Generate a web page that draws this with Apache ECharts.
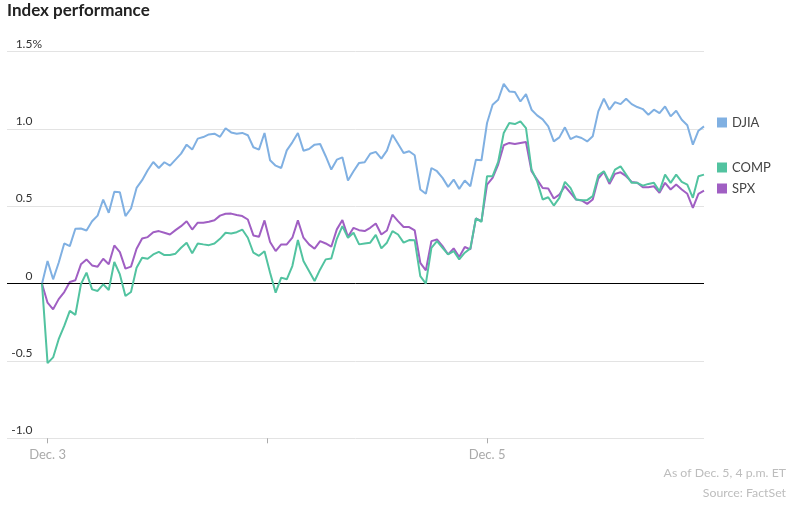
<!DOCTYPE html>
<html>
<head>
<meta charset="utf-8">
<script src="https://cdn.jsdelivr.net/npm/echarts@6/dist/echarts.min.js"></script>
<style>
html,body{margin:0;padding:0;background:#fff;}
#chart{width:794px;height:509px;}
</style>
</head>
<body>
<div id="chart"></div>
<script>
// Series values (% change), one point every 10 minutes, Dec. 3 to Dec. 5
const djia = [
  0, 0.146, 0.028, 0.135, 0.26, 0.243, 0.355, 0.357, 0.344, 0.404,
  0.44, 0.544, 0.458, 0.594, 0.591, 0.437, 0.486, 0.619, 0.669, 0.733,
  0.787, 0.748, 0.785, 0.763, 0.802, 0.841, 0.899, 0.867, 0.938, 0.948,
  0.965, 0.97, 0.95, 1.005, 0.978, 0.97, 0.975, 0.96, 0.882, 0.867,
  0.974, 0.798, 0.763, 0.748, 0.862, 0.914, 0.974, 0.86, 0.871, 0.899,
  0.903, 0.824, 0.738, 0.802, 0.817, 0.667, 0.727, 0.781, 0.785, 0.84,
  0.852, 0.809, 0.86, 0.963, 0.905, 0.845, 0.856, 0.83, 0.609, 0.581,
  0.748, 0.727, 0.684, 0.626, 0.673, 0.613, 0.667, 0.63, 0.802, 0.798,
  1.039, 1.157, 1.189, 1.292, 1.243, 1.239, 1.178, 1.226, 1.125, 1.088,
  1.062, 1.017, 0.92, 0.946, 1.011, 0.935, 0.953, 0.942, 0.92, 0.953,
  1.114, 1.196, 1.125, 1.174, 1.161, 1.196, 1.161, 1.142, 1.129, 1.092,
  1.125, 1.103, 1.146, 1.082, 1.118, 1.06, 1.024, 0.899, 0.989, 1.017
];
const comp = [
  0, -0.514, -0.477, -0.359, -0.273, -0.176, -0.202, -0.004, 0.071, -0.037,
  -0.047, -0.004, -0.041, 0.14, 0.06, -0.08, -0.054, 0.103, 0.168, 0.161,
  0.189, 0.206, 0.185, 0.185, 0.194, 0.232, 0.265, 0.196, 0.26, 0.254,
  0.249, 0.26, 0.29, 0.329, 0.325, 0.333, 0.35, 0.297, 0.2, 0.18,
  0.21, 0.07, -0.058, 0.039, 0.028, 0.114, 0.282, 0.146, 0.082, 0.017,
  0.092, 0.157, 0.163, 0.29, 0.372, 0.297, 0.329, 0.254, 0.26, 0.265,
  0.315, 0.228, 0.265, 0.34, 0.318, 0.265, 0.282, 0.28, 0.049, 0.0,
  0.232, 0.275, 0.232, 0.189, 0.211, 0.157, 0.2, 0.228, 0.422, 0.4,
  0.695, 0.695, 0.787, 0.974, 1.039, 1.032, 1.049, 1.006, 0.738, 0.662,
  0.544, 0.559, 0.505, 0.555, 0.658, 0.619, 0.544, 0.54, 0.54, 0.566,
  0.701, 0.727, 0.658, 0.738, 0.759, 0.705, 0.652, 0.652, 0.634, 0.645,
  0.652, 0.598, 0.705, 0.652, 0.705, 0.658, 0.641, 0.555, 0.695, 0.705
];
const spx = [
  0, -0.123, -0.166, -0.10, -0.054, 0.011, 0.022, 0.125, 0.157, 0.118,
  0.11, 0.161, 0.125, 0.247, 0.204, 0.097, 0.11, 0.226, 0.292, 0.301,
  0.333, 0.34, 0.329, 0.318, 0.346, 0.372, 0.404, 0.35, 0.394, 0.394,
  0.40, 0.41, 0.44, 0.452, 0.453, 0.444, 0.437, 0.415, 0.312, 0.303,
  0.409, 0.269, 0.211, 0.254, 0.254, 0.297, 0.409, 0.297, 0.254, 0.226,
  0.275, 0.26, 0.239, 0.351, 0.411, 0.303, 0.361, 0.346, 0.34, 0.361,
  0.389, 0.318, 0.344, 0.447, 0.404, 0.366, 0.366, 0.344, 0.135, 0.086,
  0.275, 0.286, 0.243, 0.189, 0.228, 0.172, 0.237, 0.222, 0.422, 0.404,
  0.641, 0.684, 0.77, 0.895, 0.91, 0.903, 0.91, 0.916, 0.727, 0.673,
  0.619, 0.615, 0.551, 0.576, 0.63, 0.587, 0.544, 0.538, 0.516, 0.544,
  0.68, 0.723, 0.645, 0.71, 0.72, 0.695, 0.658, 0.652, 0.624, 0.624,
  0.63, 0.587, 0.652, 0.609, 0.641, 0.609, 0.581, 0.49, 0.581, 0.602
];
const seriesNames = ['DJIA', 'COMP', 'SPX'];
// x-axis day ticks (point index) and their labels
const dayTickIndex = [1, 40.45, 80];
const dayTickLabels = ['Dec. 3', '', 'Dec. 5'];
// y-axis tick labels, from bottom to top
const yTickLabels = ['-1.0', '-0.5', '0', '0.5', '1.0', '1.5'];

const colors = { DJIA: '#80b0e2', COMP: '#52c3a0', SPX: '#a05fc3' };
const FONT = 'Lato';

const labelMap = {};
dayTickIndex.forEach((v, i) => { labelMap[v] = dayTickLabels[i]; });

const toPairs = arr => arr.map((v, i) => [i, v]);

const chart = echarts.init(document.getElementById('chart'), null, { renderer: 'canvas' });

const legendBase = {
  orient: 'vertical', left: 717, icon: 'rect', itemWidth: 10, itemHeight: 10,
  padding: 0, selectedMode: false,
  textStyle: { fontFamily: FONT, fontSize: 13, color: '#444' }
};

chart.setOption({
  animation: false,
  backgroundColor: '#fff',
  title: [
    { text: 'Index performance', left: 7, top: 2, padding: 0,
      textStyle: { fontFamily: FONT, fontSize: 17, fontWeight: 'bold', color: '#222' } },
    { text: 'As of Dec. 5, 4 p.m. ET', right: 8, top: 467, padding: 0,
      textStyle: { fontFamily: FONT, fontSize: 12.3, fontWeight: 'normal', color: '#bdbdbd' } },
    { text: 'Source: FactSet', right: 8, top: 487, padding: 0,
      textStyle: { fontFamily: FONT, fontSize: 12.3, fontWeight: 'normal', color: '#bdbdbd' } }
  ],
  legend: [
    Object.assign({}, legendBase, { top: 116, data: ['DJIA'] }),
    Object.assign({}, legendBase, { top: 161, data: ['COMP'] }),
    Object.assign({}, legendBase, { top: 182, data: ['SPX'] })
  ],
  grid: { left: 7, right: 90, top: 51.7, bottom: 70.7, containLabel: false },
  xAxis: {
    type: 'value',
    min: -6.29,
    max: djia.length - 1,
    axisLine: { show: false, onZero: false },
    splitLine: { show: false },
    axisTick: { show: true, customValues: dayTickIndex, length: 5,
      lineStyle: { color: '#aaa', width: 1 } },
    axisLabel: {
      customValues: dayTickIndex.filter((v, i) => dayTickLabels[i] !== ''),
      formatter: v => labelMap[v] || '',
      color: '#aaa', fontFamily: FONT, fontSize: 13, margin: 10
    }
  },
  yAxis: {
    type: 'value',
    min: -1,
    max: 1.5,
    interval: 0.5,
    axisLine: { show: false },
    axisTick: { show: false },
    splitLine: { show: true, lineStyle: { color: '#e3e3e3', width: 1 } },
    axisLabel: {
      inside: true,
      margin: 35,
      align: 'right',
      verticalAlign: 'bottom',
      padding: [0, 0, 2, 0],
      formatter: (v, i) => {
        const last = i === yTickLabels.length - 1;
        return '{n|' + yTickLabels[i] + '}' + (last ? '{p|%}' : '{h|%}');
      },
      rich: {
        n: { fontFamily: FONT, fontSize: 12, color: '#333' },
        p: { fontFamily: FONT, fontSize: 12, color: '#333' },
        h: { fontFamily: FONT, fontSize: 12, color: 'transparent' }
      }
    }
  },
  series: [
    { name: 'DJIA', type: 'line', data: toPairs(djia), showSymbol: false, symbol: 'none',
      lineStyle: { color: colors.DJIA, width: 2 }, itemStyle: { color: colors.DJIA },
      z: 3,
      markLine: { silent: true, symbol: 'none', label: { show: false },
        lineStyle: { color: '#000', width: 1, type: 'solid' }, data: [{ yAxis: 0 }] } },
    { name: 'SPX', type: 'line', data: toPairs(spx), showSymbol: false, symbol: 'none',
      lineStyle: { color: colors.SPX, width: 2 }, itemStyle: { color: colors.SPX }, z: 4 },
    { name: 'COMP', type: 'line', data: toPairs(comp), showSymbol: false, symbol: 'none',
      lineStyle: { color: colors.COMP, width: 2 }, itemStyle: { color: colors.COMP }, z: 5 }
  ]
});
</script>
</body>
</html>
